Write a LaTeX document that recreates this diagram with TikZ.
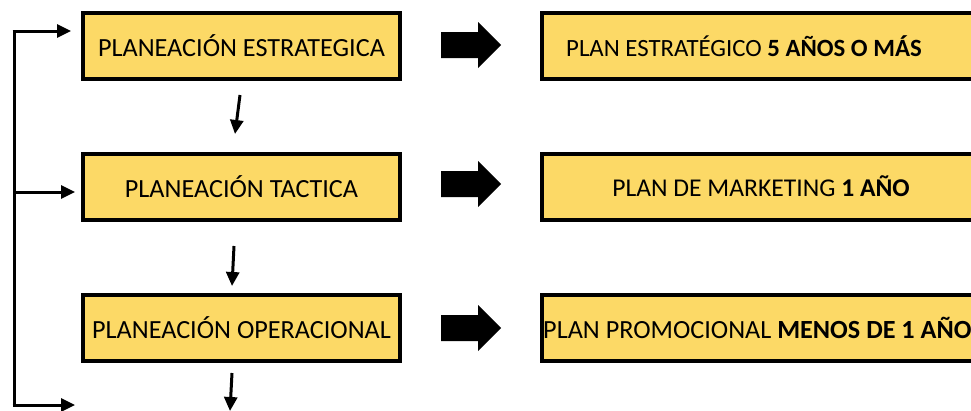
\documentclass[tikz,border=0pt]{standalone}
\usepackage{fontspec}
\setmainfont{Carlito}
\usetikzlibrary{arrows.meta}
\definecolor{gold}{RGB}{252,217,102}
\tikzset{
  lbox/.style={draw=black, line width=4pt, fill=gold, minimum width=317pt, minimum height=66pt, inner sep=0pt},
  rbox/.style={draw=black, line width=4pt, fill=gold, minimum width=460pt, minimum height=66pt, inner sep=0pt, anchor=west},
  txt/.style={font=\fontsize{26.2}{30}\selectfont, inner sep=0pt},
  conn/.style={line width=3pt, -{Triangle[width=13pt,length=14pt]}},
  blockarrow/.style={fill=black},
}
\begin{document}
\begin{tikzpicture}[x=1pt,y=-1pt]
\useasboundingbox (0,0) rectangle (971,410);
\begin{scope}
\clip (0,0) rectangle (971,410);
% left boxes
\node[lbox, txt] (l1) at (241.5,46) {PLANEACIÓN ESTRATEGICA};
\node[lbox, txt] (l2) at (241.5,186.5) {PLANEACIÓN TACTICA};
\node[lbox, txt] (l3) at (241.5,328) {PLANEACIÓN OPERACIONAL};
% right boxes
\node[rbox] (r1) at (540,46) {};
\node[rbox] (r2) at (540,186.5) {};
\node[rbox] (r3) at (540,328) {};
\node[txt, font=\fontsize{24.8}{28}\selectfont] (t1) at (744,46) {PLAN ESTRATÉGICO \textbf{5 AÑOS O MÁS}};
\node[txt, font=\fontsize{25.6}{29}\selectfont] (t2) at (761,186.5) {PLAN DE MARKETING \textbf{1 AÑO}};
\node[txt, anchor=west] (t3) at (543,328) {PLAN PROMOCIONAL \textbf{MENOS DE 1 AÑO}};
% block arrows
\foreach \y/\n in {45/a1,184/a2,328/a3}{
  \fill[blockarrow] (441,\y-13) -- (478,\y-13) -- (478,\y-23) -- (501,\y) -- (478,\y+23) -- (478,\y+13) -- (441,\y+13) -- cycle;
}
% down arrows
\coordinate (d1s) at (240,95);
\coordinate (d1e) at (235,134);
\coordinate (d2s) at (234,246);
\coordinate (d2e) at (232,286);
\coordinate (d3s) at (232,373);
\coordinate (d3e) at (230,411);
\draw[conn] (d1s) -- (d1e);
\draw[conn] (d2s) -- (d2e);
\draw[conn] (d3s) -- (d3e);
% left bracket
\coordinate (bt) at (14,31);
\coordinate (bb) at (14,405);
\coordinate (bm) at (14,192);
\coordinate (e1) at (71,31);
\coordinate (e2) at (75,192);
\coordinate (e3) at (75,405);
\draw[line width=3pt] (bt) -- (bb);
\draw[conn] ([xshift=-1.5pt]bt) -- (e1);
\draw[conn] (bm) -- (e2);
\draw[conn] ([xshift=-1.5pt]bb) -- (e3);
\end{scope}
\end{tikzpicture}
\end{document}
